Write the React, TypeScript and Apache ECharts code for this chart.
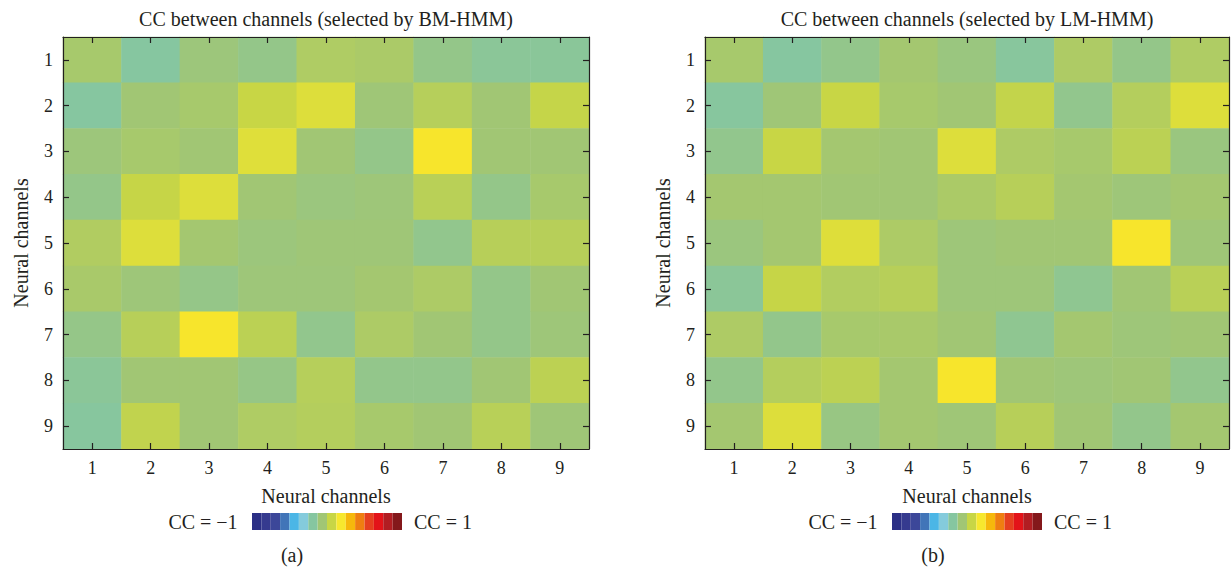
import React, { useEffect, useRef } from "react";
import * as echarts from "echarts";

const channels = ["1", "2", "3", "4", "5", "6", "7", "8", "9"];

const titleBM = "CC between channels (selected by BM-HMM)";
const titleLM = "CC between channels (selected by LM-HMM)";
const axisName = "Neural channels";
const ccLow = "CC = \u22121";
const ccHigh = "CC = 1";
const panelLabels = ["(a)", "(b)"];

// colour bar levels, from CC = -1 to CC = 1
const cbColors = [
  "#2b2f86", "#353a8f", "#3c4799", "#4175b8",
  "#4bb6e6", "#84cbdc", "#86c6a0", "#a1c674",
  "#c8d645", "#f7e82e", "#f6b80c", "#ef7e11",
  "#e63f1f", "#e31319", "#b21d22", "#84181b",
];

// rows = y channel 1..9, columns = x channel 1..9
const bmCC = [
  [-0.045, -0.2, -0.087, -0.131, -0.02, -0.034, -0.131, -0.175, -0.18],
  [-0.2, -0.067, -0.045, 0.067, 0.126, -0.077, 0.005, -0.067, 0.056],
  [-0.087, -0.045, -0.067, 0.132, -0.067, -0.131, 0.209, -0.067, -0.067],
  [-0.131, 0.06, 0.126, -0.067, -0.096, -0.082, 0.016, -0.131, -0.045],
  [-0.013, 0.126, -0.056, -0.091, -0.077, -0.077, -0.141, 0.009, 0.009],
  [-0.038, -0.082, -0.126, -0.082, -0.082, -0.056, -0.027, -0.131, -0.067],
  [-0.126, 0.009, 0.209, 0.023, -0.141, -0.027, -0.067, -0.131, -0.082],
  [-0.175, -0.067, -0.067, -0.121, 0.005, -0.136, -0.136, -0.067, 0.027],
  [-0.195, 0.042, -0.067, -0.02, -0.002, -0.045, -0.067, 0.013, -0.077],
];

const lmCC = [
  [-0.045, -0.2, -0.136, -0.056, -0.101, -0.19, -0.023, -0.131, -0.02],
  [-0.195, -0.077, 0.067, -0.045, -0.067, 0.049, -0.141, -0.002, 0.126],
  [-0.141, 0.067, -0.056, -0.067, 0.126, -0.023, -0.045, 0.023, -0.101],
  [-0.056, -0.056, -0.067, -0.067, -0.031, 0.009, -0.056, -0.082, -0.056],
  [-0.096, -0.056, 0.129, -0.027, -0.082, -0.067, -0.067, 0.209, -0.077],
  [-0.175, 0.06, -0.009, 0.009, -0.082, -0.082, -0.156, -0.067, 0.016],
  [-0.023, -0.136, -0.045, -0.038, -0.067, -0.156, -0.056, -0.082, -0.067],
  [-0.136, -0.002, 0.027, -0.056, 0.209, -0.067, -0.082, -0.067, -0.141],
  [-0.056, 0.126, -0.111, -0.056, -0.077, 0.009, -0.067, -0.136, -0.056],
];

const FONT = "'Liberation Serif', 'DejaVu Serif', serif";
const INK = "#231f20";

function toCells(m: number[][]) {
  const out: [number, number, number][] = [];
  m.forEach((row, r) => row.forEach((v, c) => out.push([c, r, v])));
  return out;
}

function makeAxes(gridIndex: number) {
  const line = { show: true, onZero: false, lineStyle: { color: INK, width: 1.2 } };
  const tick = { show: true, inside: true, alignWithLabel: true, length: 6, lineStyle: { color: INK, width: 1.2 } };
  const label = { margin: 10, fontSize: 18, fontFamily: FONT, color: INK };
  const nameStyle = { fontSize: 20, fontFamily: FONT, color: INK };
  const xAxes = [
    {
      type: "category", gridIndex, data: channels, position: "bottom", z: 10,
      axisLine: line, axisTick: tick, axisLabel: label, splitLine: { show: false },
      name: axisName, nameLocation: "middle", nameGap: 37, nameTextStyle: nameStyle,
    },
    {
      type: "category", gridIndex, data: channels, position: "top", z: 10,
      axisLine: line, axisTick: tick, axisLabel: { show: false }, splitLine: { show: false },
    },
  ];
  const yAxes = [
    {
      type: "category", gridIndex, data: channels, position: "left", inverse: true, z: 10,
      axisLine: line, axisTick: tick, axisLabel: label, splitLine: { show: false },
      name: axisName, nameLocation: "middle", nameGap: 32, nameRotate: 90, nameTextStyle: nameStyle,
    },
    {
      type: "category", gridIndex, data: channels, position: "right", inverse: true, z: 10,
      axisLine: line, axisTick: tick, axisLabel: { show: false }, splitLine: { show: false },
    },
  ];
  return { xAxes, yAxes };
}

function txt(text: string, x: number, y: number, size: number) {
  return {
    type: "text",
    x,
    y,
    style: {
      text,
      font: `${size}px ${FONT}`,
      fill: INK,
      align: "center",
      verticalAlign: "middle",
      textAlign: "center",
      textVerticalAlign: "middle",
    },
  };
}

function colourBar(left: number) {
  return {
    type: "piecewise",
    seriesIndex: 2,
    orient: "horizontal",
    left,
    top: 513,
    padding: 0,
    itemWidth: 150 / cbColors.length,
    itemHeight: 17,
    itemGap: 0,
    itemSymbol: "rect",
    showLabel: false,
    selectedMode: false,
    hoverLink: false,
    pieces: cbColors.map((c, i) => ({
      min: -1 + (i * 2) / cbColors.length,
      max: -1 + ((i + 1) * 2) / cbColors.length,
      color: c,
    })),
  };
}

export default function App() {
  const ref = useRef<HTMLDivElement>(null);

  useEffect(() => {
    if (!ref.current) return;
    const chart = echarts.init(ref.current, undefined, { renderer: "svg" });
    const a = makeAxes(0);
    const b = makeAxes(1);
    chart.setOption({
      animation: false,
      backgroundColor: "#ffffff",
      grid: [
        { left: 63, top: 37, width: 526, height: 412 },
        { left: 705, top: 37, width: 524, height: 412 },
      ],
      xAxis: [...a.xAxes, ...b.xAxes],
      yAxis: [...a.yAxes, ...b.yAxes],
      visualMap: [
        {
          type: "continuous",
          show: false,
          seriesIndex: [0, 1],
          min: -1,
          max: 1,
          inRange: { color: cbColors },
        },
        colourBar(252),
        colourBar(892),
      ],
      graphic: [
        txt(titleBM, 326, 19, 20),
        txt(titleLM, 967, 19, 20),
        txt(ccLow, 203, 522, 20),
        txt(ccHigh, 443, 522, 20),
        txt(ccLow, 843, 522, 20),
        txt(ccHigh, 1083, 522, 20),
        txt(panelLabels[0], 292, 555, 20),
        txt(panelLabels[1], 933, 555, 20),
      ],
      series: [
        {
          type: "heatmap",
          xAxisIndex: 0,
          yAxisIndex: 0,
          data: toCells(bmCC),
          emphasis: { disabled: true },
        },
        {
          type: "heatmap",
          xAxisIndex: 2,
          yAxisIndex: 2,
          data: toCells(lmCC),
          emphasis: { disabled: true },
        },
        {
          type: "heatmap",
          xAxisIndex: 0,
          yAxisIndex: 0,
          data: [],
          silent: true,
        },
      ],
    });
    return () => chart.dispose();
  }, []);

  return (
    <div
      ref={ref}
      style={{ position: "fixed", left: 0, top: 0, width: 1232, height: 575, background: "#fff" }}
    />
  );
}
